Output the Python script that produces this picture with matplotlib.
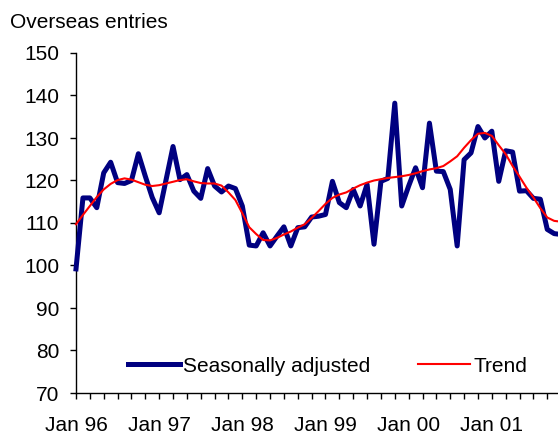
import numpy as np
import matplotlib
matplotlib.use("Agg")
import matplotlib.pyplot as plt

# monthly values, Jan 96 onwards
seas_adj = [99.2, 115.9, 115.9, 113.6, 121.8, 124.3, 119.5, 119.3, 120.0, 126.3, 121.0, 116.0,
            112.4, 120.2, 128.0, 120.2, 121.4, 117.5, 115.8, 122.8, 118.7, 117.3, 118.7, 118.1,
            114.0, 104.8, 104.6, 107.7, 104.6, 106.9, 109.1, 104.6, 108.9, 109.1, 111.4, 111.6,
            112.0, 119.8, 114.8, 113.6, 117.9, 114.0, 119.1, 105.0, 119.8, 120.5, 138.2, 114.0,
            118.7, 123.0, 118.3, 133.5, 122.2, 122.1, 117.9, 104.6, 124.9, 126.5, 132.7, 130.0,
            131.6, 119.8, 127.0, 126.7, 117.5, 117.6, 115.8, 115.6, 108.5, 107.5, 107.3]
trend = [109.7, 111.9, 114.0, 116.1, 117.9, 119.2, 120.1, 120.5, 120.2, 119.6, 119.0, 118.7,
         118.9, 119.3, 119.7, 120.1, 120.3, 119.8, 119.4, 119.3, 119.3, 118.8, 117.2, 115.4,
         112.3, 109.0, 107.4, 106.0, 105.9, 106.5, 107.3, 108.0, 108.9, 109.7, 111.2, 112.8,
         114.5, 115.9, 116.7, 117.2, 118.1, 118.9, 119.5, 120.0, 120.3, 120.6, 120.8, 121.0,
         121.3, 121.7, 122.2, 122.6, 122.9, 123.4, 124.5, 125.7, 127.7, 129.5, 131.0, 131.2,
         130.5, 128.3, 126.2, 123.4, 120.9, 118.3, 116.0, 113.5, 111.3, 110.5, 110.3]
year_labels = ["Jan 96", "Jan 97", "Jan 98", "Jan 99", "Jan 00", "Jan 01"]

plt.rcParams['font.family'] = ['Liberation Sans', 'DejaVu Sans']
plt.rcParams['font.size'] = 15

fig = plt.figure(figsize=(5.58, 4.36), dpi=100)
ax = fig.add_axes([76/558, 43/436, 482/558, 340/436])

x = np.arange(len(seas_adj))
ax.plot(x, seas_adj, color='#000080', lw=3.6, solid_joinstyle='round',
        label='Seasonally adjusted', clip_on=False, zorder=3)
ax.plot(x, trend, color='#ff0000', lw=1.5, label='Trend', clip_on=False, zorder=4)

ax.set_xlim(0, 69.55)
ax.set_ylim(70, 150)
ax.set_yticks(np.arange(70, 151, 10))
ax.set_xticks(np.arange(0, 61, 12))
ax.set_xticklabels(year_labels)
ax.set_xticks(np.arange(0, 70, 2), minor=True)

for s in ['top', 'right']:
    ax.spines[s].set_visible(False)
for s in ['left', 'bottom']:
    ax.spines[s].set_color('black')
    ax.spines[s].set_linewidth(1)

ax.tick_params(axis='y', direction='out', length=4, width=1, pad=8)
ax.tick_params(axis='x', which='both', direction='out', length=4, width=1, pad=12.5)

fig.text(10/558, 1 - 28/436, 'Overseas entries', ha='left', va='baseline')

ax.legend(loc='center left', bbox_to_anchor=(128/558, 1 - 366/436),
          bbox_transform=fig.transFigure, ncol=2, frameon=False,
          handlelength=2.5, handletextpad=0.15, columnspacing=2.3,
          borderpad=0, borderaxespad=0)

fig.savefig('out.png', dpi=100)
